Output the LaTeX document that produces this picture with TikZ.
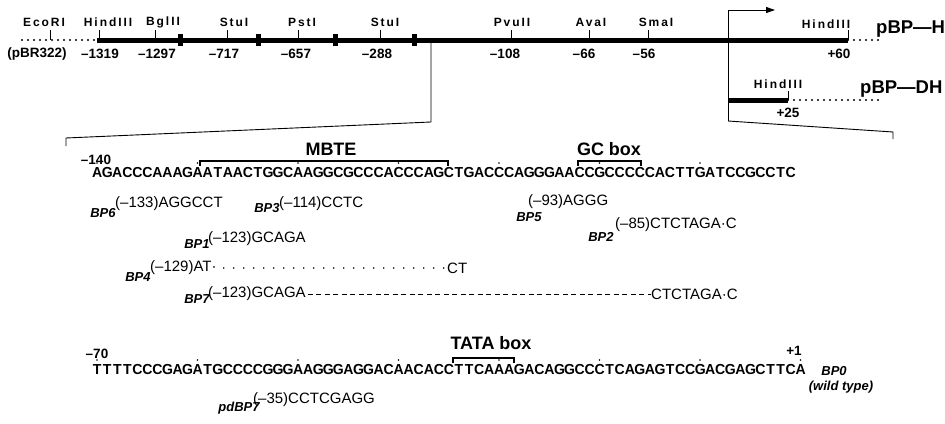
\documentclass[tikz,border=0pt]{standalone}
\usepackage{fontspec}
\usepackage{graphicx}
\setmainfont{Liberation Sans}
\usetikzlibrary{arrows.meta}
\newcommand\seqbox[1]{\makebox[10.05pt]{\scalebox{0.97}[1]{#1}}}
\def\seqrun#1{\ifx#1\relax\else\seqbox{#1}\expandafter\seqrun\fi}
\tikzset{
  site/.style={font=\bfseries\fontsize{12}{12}\selectfont\addfontfeature{LetterSpace=16}, inner sep=0},
  posn/.style={font=\bfseries\fontsize{13.5}{13.5}\selectfont, inner sep=0},
  seqline/.style={font=\bfseries\fontsize{14.5}{14.5}\selectfont, inner sep=0, anchor=base west},
  mut/.style={font=\fontsize{15}{15}\selectfont, inner sep=0, anchor=west},
  bplab/.style={font=\bfseries\itshape\fontsize{13}{13}\selectfont, inner sep=0},
  boxlab/.style={font=\bfseries\fontsize{18}{18}\selectfont, inner sep=0},
  plas/.style={font=\bfseries\fontsize{18.5}{18.5}\selectfont, inner sep=0},
  thickbar/.style={line width=5pt},
  dotline/.style={line width=2.2pt, line cap=round, dash pattern=on 0pt off 6pt},
  mutdots/.style={line width=1.8pt, line cap=round, dash pattern=on 0pt off 10pt},
  mutdash/.style={line width=0.9pt, dash pattern=on 5pt off 3.5pt},
  sitetick/.style={line width=0.9pt},
  zoomline/.style={line width=0.9pt},
  brk/.style={fill=black},
  seqdot/.style={fill=black},
  brkt/.style={line width=1.2pt},
}
\begin{document}
\begin{tikzpicture}[x=1pt,y=-1pt]
\useasboundingbox (0,0) rectangle (945,423);
% ---------- restriction map ----------
\coordinate (dl0) at (22,40);
\coordinate (bar0) at (97,40);
\coordinate (bar1) at (848,40);
\coordinate (dr1) at (882,40);
\draw[dotline] (dl0) -- (bar0);
\draw[thickbar] (bar0) -- (bar1);
\draw[dotline] (bar1) -- (dr1);
\foreach \x in {180,258,335,414} \fill[brk] (\x-2.5,34) rectangle (\x+2.5,46);
\foreach \x in {50,99,155,227,298,380,511,589,648,848} \draw[sitetick] (\x,30) -- (\x,40);
\node[site] (eco) at (44,22) {EcoRI};
\node[site] (hind1) at (108,22) {HindIII};
\node[site] (bgl) at (163,22) {BglII};
\node[site] (stu1) at (234,22) {StuI};
\node[site] (pst) at (302,22) {PstI};
\node[site] (stu2) at (385,22) {StuI};
\node[site] (pvu) at (512,22) {PvuII};
\node[site] (ava) at (591,22) {AvaI};
\node[site] (sma) at (656,22) {SmaI};
\node[site] (hind2) at (826,24) {HindIII};
\node[posn] (pbr) at (37,54) {(pBR322)};
\node[posn] (n1319) at (100,54) {–1319};
\node[posn] (n1297) at (157,54) {–1297};
\node[posn] (n717) at (224,54) {–717};
\node[posn] (n657) at (296,54) {–657};
\node[posn] (n288) at (377,54) {–288};
\node[posn] (n108) at (505,54) {–108};
\node[posn] (n66) at (584,54) {–66};
\node[posn] (n56) at (644,54) {–56};
\node[posn] (p60) at (839,54) {+60};
\node[plas, anchor=west] (pbph) at (876,29) {pBP—H};
% transcription start
\coordinate (ts0) at (728,10);
\coordinate (ts1) at (728,121);
\coordinate (tsar) at (775,10);
\draw[zoomline, -{Triangle[length=9pt,width=6pt]}] (ts1) -- (ts0) -- (tsar);
% pBP-DH
\coordinate (dh0) at (728,100);
\coordinate (dh1) at (788,100);
\coordinate (dh2) at (878,100);
\draw[thickbar] (dh0) -- (dh1);
\draw[dotline] (dh1) -- (dh2);
\draw[sitetick] (788,91) -- (dh1);
\node[site] (hind3) at (778,84) {HindIII};
\node[posn] (p25) at (788,113) {+25};
\node[plas, anchor=west] (pbpdh) at (860,89) {pBP—DH};
% zoom lines
\coordinate (zl0) at (431,40);
\coordinate (zl1) at (431,122);
\coordinate (zl2) at (66,138);
\coordinate (zl3) at (66,146);
\draw[zoomline] (zl0) -- (zl1) -- (zl2) -- (zl3);
\coordinate (zr2) at (893,132);
\coordinate (zr3) at (893,139);
\draw[zoomline] (ts1) -- (zr2) -- (zr3);
% ---------- sequence line 1 ----------
\node[posn] (m140) at (96,160) {–140};
\node[seqline] (seq1) at (92,177) {\seqrun AGACCCAAAGAATAACTGGCAAGGCGCCCACCCAGCTGACCCAGGGAACCGCCCCCACTTGATCCGCCTC\relax};
\foreach \i in {1,11,21,31,41,51,61} \fill[seqdot] ({92+(\i-0.5)*10.05},163) circle (0.9pt);
\draw[brkt] (200,166) -- (200,161) -- (448,161) -- (448,166);
\node[boxlab] (mbte) at (331,149) {MBTE};
\draw[brkt] (578,166) -- (578,161) -- (641,161) -- (641,166);
\node[boxlab] (gcbox) at (609,149) {GC box};
% ---------- mutations ----------
\node[bplab] (bp6) at (103,213) {BP6};
\node[mut] (bp6t) at (115,204) {(–133)AGGCCT};
\node[bplab] (bp3) at (267,208) {BP3};
\node[mut] (bp3t) at (279,204) {(–114)CCTC};
\node[bplab] (bp5) at (529,217) {BP5};
\node[mut] (bp5t) at (528,202) {(–93)AGGG};
\node[bplab] (bp2) at (601,237) {BP2};
\node[mut] (bp2t) at (615,225) {(–85)CTCTAGA·C};
\node[bplab] (bp1) at (197,244) {BP1};
\node[mut] (bp1t) at (208,239) {(–123)GCAGA};
\node[bplab] (bp4) at (138,277) {BP4};
\node[mut] (bp4t) at (150,268) {(–129)AT·};
\node[mut] (bp4e) at (447,268) {CT};
\draw[mutdots] ([xshift=7pt]bp4t.east) -- ([xshift=-3pt]bp4e.west);
\node[bplab] (bp7) at (197,299) {BP7};
\node[mut] (bp7t) at (208,294) {(–123)GCAGA};
\node[mut] (bp7e) at (651,294) {CTCTAGA·C};
\draw[mutdash] ([xshift=2pt]bp7t.east) -- (bp7e.west);
% ---------- sequence line 2 ----------
\node[posn] (m70) at (97,354) {–70};
\node[seqline] (seq2) at (92,374) {\seqrun TTTTCCCGAGATGCCCCGGGAAGGGAGGACAACACCTTCAAAGACAGGCCCTCAGAGTCCGACGAGCTTCA\relax};
\foreach \i in {1,11,21,31,41,51,61,71} \fill[seqdot] ({92+(\i-0.5)*10.05},360) circle (0.9pt);
\draw[brkt] (453,363) -- (453,358) -- (514,358) -- (514,363);
\node[boxlab] (tata) at (491,343) {TATA box};
\node[posn] (p1) at (794,351) {+1};
\node[bplab] (bp0) at (834,371) {BP0};
\node[bplab] (wt) at (841,387) {(wild type)};
\node[bplab] (pdbp7) at (239,408) {pdBP7};
\node[mut] (pdbp7t) at (253,400) {(–35)CCTCGAGG};
\end{tikzpicture}
\end{document}
